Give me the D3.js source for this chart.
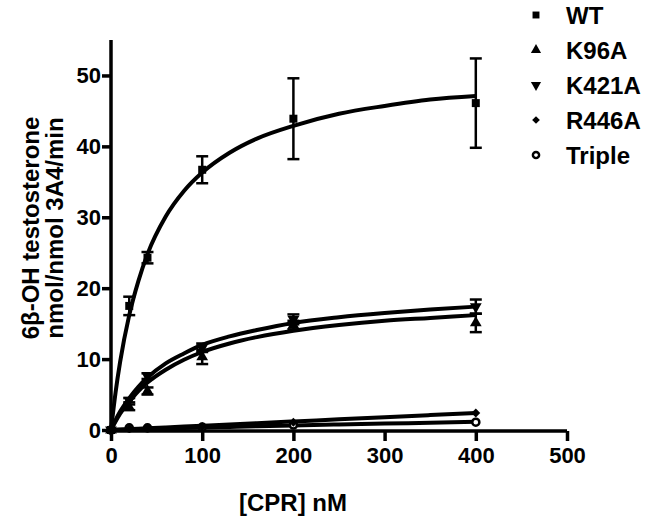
<!DOCTYPE html>
<meta charset="utf-8">
<style>
body { margin: 0; background: #fff; }
text { font-family: "Liberation Sans", Arial, sans-serif; font-weight: bold; fill: #000; }
.fit { fill: none; stroke: #000; stroke-width: 4px; }
.err { stroke: #000; stroke-width: 2.5px; }
.axis path, .axis line { stroke: #000; stroke-width: 3.5px; }
</style>
<body>
<script src="https://cdn.jsdelivr.net/npm/d3@7"></script>
<script>

// measured points ([CPR] nM)
var conc = [0, 20, 40, 100, 200, 400]
var series = ["WT", "K96A", "K421A", "R446A", "Triple"]

var wtMean = [0, 17.5, 24.3, 36.7, 43.9, 46.1]
var wtErr = [0, 1.3, 0.8, 1.9, 5.7, 6.3]
var k96Mean = [0, 3.2, 5.5, 10.3, 14.8, 15.1]
var k96Err = [0, 0.4, 0.5, 1.0, 0.6, 1.3]
var k421Mean = [0, 4.2, 7.6, 11.6, 15.6, 17.4]
var k421Err = [0, 0.3, 0.4, 0.6, 0.7, 1.0]
var r446Mean = [0, 0.2, 0.3, 0.5, 1.1, 2.4]
var tripleMean = [0, 0.3, 0.3, 0.4, 0.7, 1.1]

// fitted curves
var fitX = [0, 5, 10, 20, 30, 40, 60, 80, 100, 130, 160, 200, 250, 300, 350, 400]
var wtFit = [0, 5.3, 9.6, 16.2, 21.0, 24.8, 30.1, 33.7, 36.3, 39.1, 41.1, 42.9, 44.6, 45.7, 46.6, 47.1]
var k96Fit = [0, 1.2, 2.3, 4.0, 5.5, 6.7, 8.5, 9.9, 11.0, 12.2, 13.1, 14.0, 14.8, 15.4, 15.8, 16.2]
var k421Fit = [0, 1.4, 2.6, 4.5, 6.1, 7.4, 9.4, 10.8, 12.0, 13.2, 14.1, 15.1, 15.9, 16.5, 17.0, 17.4]
var r446Fit = [0, 0.03, 0.06, 0.12, 0.18, 0.24, 0.36, 0.48, 0.6, 0.78, 0.96, 1.2, 1.5, 1.8, 2.1, 2.4]
var tripleFit = [0, 0.02, 0.04, 0.08, 0.11, 0.15, 0.22, 0.29, 0.35, 0.44, 0.53, 0.65, 0.78, 0.9, 1.03, 1.15]

var xTicks = [0, 100, 200, 300, 400, 500]
var yTicks = [0, 10, 20, 30, 40, 50]

var width = 649, height = 521

var svg = d3.select("body").append("svg")
    .attr("width", width)
    .attr("height", height)

var x = d3.scaleLinear().domain([0, 500]).range([111, 567])
var y = d3.scaleLinear().domain([0, 55]).range([430, 40])

var symbols = {
  "WT": d3.symbolSquare,
  "K96A": d3.symbolTriangle,
  "K421A": d3.symbolTriangle,
  "R446A": d3.symbolSquare,
  "Triple": d3.symbolCircle
}

function marker(g, name, small) {
  var k = small ? 0.75 : 1
  var s = d3.symbol().type(symbols[name])
  if (name == "Triple") {
    g.append("path").attr("d", s.size(40 * k)())
      .attr("fill", "#fff").attr("stroke", "#000").attr("stroke-width", 2.5)
  } else {
    var sz = name == "WT" ? 64 : name == "R446A" ? 40 : 60
    var p = g.append("path").attr("d", s.size(sz * k)()).attr("fill", "#000")
    if (name == "K421A") p.attr("transform", "rotate(180)")
    if (name == "R446A") p.attr("transform", "rotate(45)")
  }
}

var data = [
  {name: "WT", mean: wtMean, err: wtErr, fit: wtFit},
  {name: "K96A", mean: k96Mean, err: k96Err, fit: k96Fit},
  {name: "K421A", mean: k421Mean, err: k421Err, fit: k421Fit},
  {name: "R446A", mean: r446Mean, err: null, fit: r446Fit},
  {name: "Triple", mean: tripleMean, err: null, fit: tripleFit}
]

// axes
var xAxis = svg.append("g").attr("class", "axis")
    .attr("transform", "translate(0,431)")
    .call(d3.axisBottom(x).tickValues(xTicks).tickSize(10).tickSizeOuter(0).tickPadding(6))
var yAxis = svg.append("g").attr("class", "axis")
    .attr("transform", "translate(111,0)")
    .call(d3.axisLeft(y).tickValues(yTicks).tickSize(9).tickSizeOuter(0).tickPadding(1))
svg.selectAll(".axis text").style("font-size", "22px").style("font-family", "'Liberation Sans', Arial, sans-serif")
xAxis.select(".domain").attr("d", "M" + x(0) + ",0H" + x(500))
yAxis.select(".domain").attr("d", "M0," + y(0) + "V" + y(55))

var line = d3.line()
    .x(function(d) { return x(d[0]) })
    .y(function(d) { return y(d[1]) })
    .curve(d3.curveMonotoneX)

data.slice().reverse().forEach(function(s) {
  svg.append("path").attr("class", "fit")
      .attr("d", line(fitX.map(function(v, i) { return [v, s.fit[i]] })))

  if (s.err) {
    conc.forEach(function(c, i) {
      if (!s.err[i]) return
      var e = svg.append("g").attr("class", "err")
      e.append("line").attr("x1", x(c)).attr("x2", x(c))
          .attr("y1", y(s.mean[i] - s.err[i])).attr("y2", y(s.mean[i] + s.err[i]))
      ;[s.mean[i] - s.err[i], s.mean[i] + s.err[i]].forEach(function(v) {
        e.append("line").attr("x1", x(c) - 6).attr("x2", x(c) + 6)
            .attr("y1", y(v)).attr("y2", y(v))
      })
    })
  }

  conc.forEach(function(c, i) {
    var g = svg.append("g").attr("transform", "translate(" + x(c) + "," + y(s.mean[i]) + ")")
    marker(g, s.name)
  })
})

// legend
var leg = svg.append("g")
series.forEach(function(name, i) {
  var row = leg.append("g").attr("transform", "translate(536," + (15 + i * 35) + ")")
  marker(row, name, true)
  row.append("text").attr("x", 30).attr("dy", "0.36em")
      .style("font-size", "24px").text(name)
})

// titles
svg.append("text")
    .attr("x", 293).attr("y", 511)
    .attr("text-anchor", "middle")
    .style("font-size", "24px")
    .text("[CPR] nM")

var yt = svg.append("text")
    .attr("transform", "translate(0,228) rotate(-90)")
    .attr("text-anchor", "middle")
    .style("font-size", "24px")
yt.append("tspan").attr("x", 0).attr("y", 39).text("6β-OH testosterone")
yt.append("tspan").attr("x", 0).attr("y", 63).text("nmol/nmol 3A4/min")

</script>
</body>
</html>
